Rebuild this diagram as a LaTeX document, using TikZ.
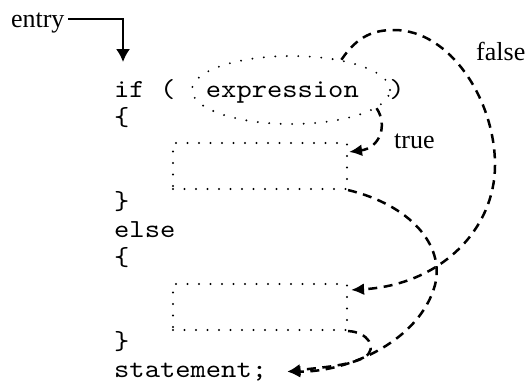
\documentclass[tikz,border=0pt]{standalone}
\usepackage{fontspec}
\setmainfont{Liberation Serif}
\setmonofont[FakeStretch=1.12]{lmmono10-regular.otf}
\usetikzlibrary{arrows.meta,shapes.geometric}
\begin{document}
\begin{tikzpicture}[x=1pt,y=-1pt,
  code/.style={anchor=base west,inner sep=0pt,font=\ttfamily\fontsize{26}{28}\selectfont},
  tag/.style={anchor=base west,inner sep=0pt,font=\fontsize{26}{28}\selectfont},
  dots/.style={line width=2.1pt,line cap=round,dash pattern=on 0pt off 11.5pt},
  region/.style={dots,draw,rectangle,inner sep=0pt,minimum width=174pt,minimum height=46pt},
  flow/.style={line width=2.5pt,dash pattern=on 9pt off 6.5pt,-{Latex[length=13pt,width=12pt]}},
  entryline/.style={line width=1.8pt,-{Latex[length=13pt,width=14pt]}}]

\useasboundingbox (0,0) rectangle (527,383);

% the code listing, one node per line
\node[code] (ifline) at (114,97)  {if (~~expression~~)};
\node[code] (open1)  at (114,125) {\{};
\node[code] (close1) at (114,209) {\}};
\node[code] (elsekw) at (114,237) {else};
\node[code] (open2)  at (114,265) {\{};
\node[code] (close2) at (114,349) {\}};
\node[code] (stmt)   at (114,377) {statement;};

% dotted outlines: the condition and the two statement blocks
\node[draw,ellipse,dots,inner sep=0pt,minimum width=198pt,minimum height=68pt] (cond) at (291,90) {};
\node[region] (b1) at (260,166) {};
\node[region] (b2) at (260,307) {};

% labels
\node[tag,outer xsep=4pt] (entry) at (7,27) {entry};
\node[tag] (truelbl)  at (394,148) {true};
\node[tag] (falselbl) at (476,60)  {false};

% entry arrow
\coordinate (entrybend) at (123,19);
\coordinate (entrytip)  at (123,62);
\draw[entryline] (entry.east |- entrybend) -- (entrybend) -- (entrytip);

% control flow
\coordinate (stmttip) at ([xshift=20pt]stmt.east);
\draw[flow] (cond.-12) .. controls (388,125) and (380,148) .. ([xshift=1pt,yshift=-10pt]b1.north east);
\draw[flow] (cond.31) .. controls (358,35) and (375,30) .. (394,30)
  .. controls (450,30) and (495,100) .. (495,165)
  .. controls (495,230) and (440,285) .. ([xshift=3pt,yshift=-7pt]b2.north east);
\draw[flow] (b1.south east) .. controls (410,205) and (445,245) .. (435,285)
  .. controls (420,340) and (350,372) .. (stmttip);
\draw[flow] (b2.south east) .. controls (368,332) and (378,348) .. (365,357)
  .. controls (350,366) and (315,368) .. (stmttip);
\end{tikzpicture}
\end{document}
